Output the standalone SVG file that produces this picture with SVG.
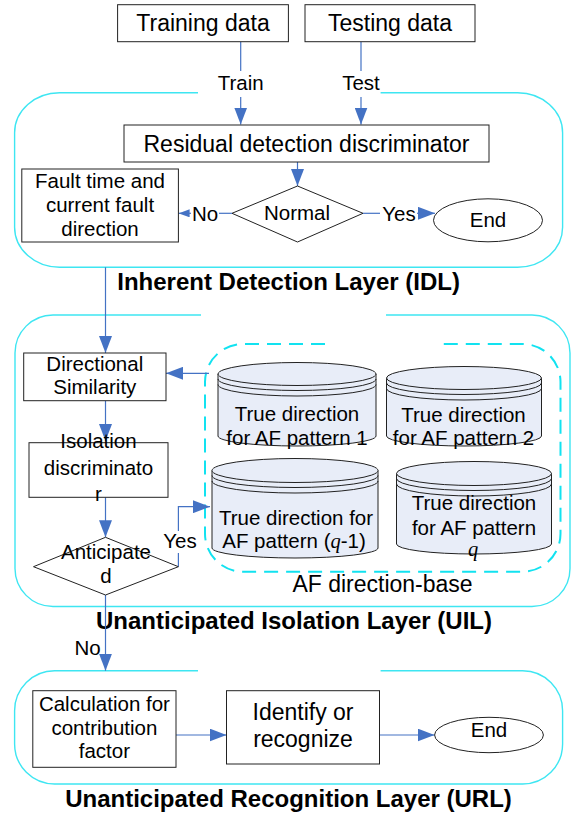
<svg xmlns="http://www.w3.org/2000/svg" width="571" height="814" viewBox="0 0 571 814">
<style>
text{font-family:"Liberation Sans",Arial,sans-serif;fill:#000;text-anchor:middle}
.t23{font-size:23px}
.t20{font-size:20.5px}
.title{font-size:24px;font-weight:bold}
.box{fill:#fff;stroke:#222;stroke-width:1}
.cyl{fill:#e8edf8;stroke:#222;stroke-width:1}
.arc{fill:none;stroke:#222;stroke-width:1}
.frame{fill:none;stroke:#3ee6f2;stroke-width:1.4}
.dash{fill:none;stroke:#12e2f0;stroke-width:2;stroke-dasharray:14 8}
.con{fill:none;stroke:#4472c4;stroke-width:1.2}
.q{font-family:"Liberation Serif","Times New Roman",serif;font-style:italic}
</style>
<defs>
<marker id="arr" markerUnits="userSpaceOnUse" markerWidth="17" markerHeight="13" refX="17" refY="6.5" orient="auto">
<path d="M0,0 L17,6.5 L0,13 z" fill="#4472c4"/>
</marker>
<marker id="arrs" markerUnits="userSpaceOnUse" markerWidth="11" markerHeight="8" refX="11" refY="4" orient="auto">
<path d="M0,0 L11,4 L0,8 z" fill="#4472c4"/>
</marker>
</defs>

<g id="frames">
<path class="frame" d="M198,92.7 H59.6 A45,40 0 0 0 14.6,132.7 V227.3 A45,40 0 0 0 59.6,267.3 H517.6 A45,40 0 0 0 562.6,227.3 V132.7 A45,40 0 0 0 517.6,92.7 H380.6"/>
<path class="frame" d="M201,315 H53 A38,38 0 0 0 15,353 V568.5 A38,38 0 0 0 53,606.5 H532 A38,38 0 0 0 570,568.5 V353 A38,38 0 0 0 532,315 H386"/>
<path class="frame" d="M198,670.7 H54.6 A40,40 0 0 0 14.6,710.7 V744 A40,40 0 0 0 54.6,784 H522.6 A40,40 0 0 0 562.6,744 V710.7 A40,40 0 0 0 522.6,670.7 H380.6"/>
<path class="dash" d="M325,344 H243 A38,38 0 0 0 205,382 V533.7 A38,38 0 0 0 243,571.7 H522.5 A38,38 0 0 0 560.5,533.7 V382 A38,38 0 0 0 522.5,344 H441.7"/>
</g>

<g id="titles">
<text class="title" x="288.6" y="290">Inherent Detection Layer (IDL)</text>
<text class="title" x="294" y="629">Unanticipated Isolation Layer (UIL)</text>
<text class="title" x="288.5" y="806.5">Unanticipated Recognition Layer (URL)</text>
<text class="t23" x="382.5" y="591.5">AF direction-base</text>
</g>

<g id="connectors">
<path class="con" d="M240.7,41.7 V71"/>
<path class="con" d="M240.7,97 V124.5" marker-end="url(#arr)"/>
<text class="t20" x="240.7" y="90">Train</text>
<path class="con" d="M361,41.7 V71"/>
<path class="con" d="M361,97 V124.5" marker-end="url(#arr)"/>
<text class="t20" x="361" y="90">Test</text>
<path class="con" d="M297.5,162 V186" marker-end="url(#arr)"/>
<path class="con" d="M232,213.3 H219"/>
<path class="con" d="M191,213.3 H178.6" marker-end="url(#arrs)"/>
<text class="t20" x="205" y="220.5">No</text>
<path class="con" d="M363,213.3 H380"/>
<path class="con" d="M417,213.3 H435" marker-end="url(#arr)"/>
<text class="t20" x="399" y="220.5">Yes</text>
<path class="con" d="M105.5,267.3 V353" marker-end="url(#arr)"/>
<path class="con" d="M209,373.3 H166" marker-end="url(#arr)"/>
<path class="con" d="M105.5,400.7 V441" marker-end="url(#arr)"/>
<path class="con" d="M105.5,497.3 V537.3" marker-end="url(#arr)"/>
<path class="con" d="M178.4,566.7 V553"/>
<path class="con" d="M178.4,531 V506.7 H210" marker-end="url(#arr)"/>
<text class="t20" x="180" y="548">Yes</text>
<path class="con" d="M105.5,595 V670.7" marker-end="url(#arr)"/>
<text class="t20" x="87.5" y="655">No</text>
<path class="con" d="M176,735 H226.5" marker-end="url(#arr)"/>
<path class="con" d="M379.5,735 H434.5" marker-end="url(#arr)"/>
</g>

<g id="training">
<rect class="box" x="117.6" y="4.7" width="170.8" height="37"/>
<text class="t23" x="203" y="31">Training data</text>
</g>
<g id="testing">
<rect class="box" x="305" y="4.7" width="170" height="37"/>
<text class="t23" x="390" y="31">Testing data</text>
</g>
<g id="residual">
<rect class="box" x="124" y="125" width="365" height="37"/>
<text class="t23" x="306.5" y="151.5">Residual detection discriminator</text>
</g>
<g id="fault">
<rect class="box" x="21.8" y="169" width="156.6" height="73"/>
<text class="t20" x="100" y="188">Fault time and</text>
<text class="t20" x="100" y="212">current fault</text>
<text class="t20" x="100" y="236">direction</text>
</g>
<g id="normal">
<polygon class="box" points="297.5,186 363,213.3 297.5,242 232,213.3"/>
<text class="t20" x="297" y="220">Normal</text>
</g>
<g id="end1">
<ellipse class="box" cx="488" cy="220.3" rx="54.5" ry="21.5"/>
<text class="t20" x="488" y="227">End</text>
</g>
<g id="directional">
<rect class="box" x="23.7" y="353" width="142.3" height="47.7"/>
<text class="t20" x="94.8" y="370.7">Directional</text>
<text class="t20" x="94.8" y="394">Similarity</text>
</g>
<g id="isolation">
<rect class="box" x="29" y="442.7" width="139" height="54.6"/>
<text class="t20" x="98.5" y="448">Isolation</text>
<text class="t20" x="98.5" y="475">discriminato</text>
<text class="t20" x="98.5" y="500.5">r</text>
</g>
<g id="anticipated">
<polygon class="box" points="105.5,537.3 178.4,566.7 105.5,595 33.5,566.7"/>
<text class="t20" x="106" y="559">Anticipate</text>
<text class="t20" x="106" y="583">d</text>
</g>

<g id="cyl1">
<path class="cyl" d="M218,374 V436 A79,10 0 0 0 376,436 V374 z"/>
<ellipse class="cyl" cx="297" cy="374" rx="79" ry="11.5"/>
<path class="arc" d="M218,379 A79,11.5 0 0 0 376,379 M218,384.5 A79,11.5 0 0 0 376,384.5"/>
<text class="t20" x="297" y="421">True direction</text>
<text class="t20" x="297" y="444.5">for AF pattern 1</text>
</g>
<g id="cyl2">
<path class="cyl" d="M386.5,378 V436 A77.5,10 0 0 0 541.5,436 V378 z"/>
<ellipse class="cyl" cx="464" cy="378" rx="77.5" ry="11.5"/>
<path class="arc" d="M386.5,383 A77.5,11.5 0 0 0 541.5,383 M386.5,388.5 A77.5,11.5 0 0 0 541.5,388.5"/>
<text class="t20" x="463.5" y="421.5">True direction</text>
<text class="t20" x="463.5" y="444.5">for AF pattern 2</text>
</g>
<g id="cyl3">
<path class="cyl" d="M212,470.5 V548 A83,10 0 0 0 378,548 V470.5 z"/>
<ellipse class="cyl" cx="295" cy="470.5" rx="83" ry="12"/>
<path class="arc" d="M212,475.5 A83,12 0 0 0 378,475.5 M212,481 A83,12 0 0 0 378,481"/>
<text class="t20" x="296" y="525">True direction for</text>
<text class="t20" x="294" y="548.3">AF pattern (<tspan class="q">q</tspan>-1)</text>
</g>
<g id="cyl4">
<path class="cyl" d="M396.5,473.5 V544 A77.5,10 0 0 0 551.5,544 V473.5 z"/>
<ellipse class="cyl" cx="474" cy="473.5" rx="77.5" ry="12"/>
<path class="arc" d="M396.5,478.5 A77.5,12 0 0 0 551.5,478.5 M396.5,484 A77.5,12 0 0 0 551.5,484"/>
<text class="t20" x="474" y="510">True direction</text>
<text class="t20" x="474" y="535">for AF pattern</text>
<text class="t20 q" x="473" y="556">q</text>
</g>

<g id="calc">
<rect class="box" x="32.8" y="690.7" width="143.2" height="76.6"/>
<text class="t20" x="104.4" y="710.5">Calculation for</text>
<text class="t20" x="104.4" y="735">contribution</text>
<text class="t20" x="104.4" y="758.3">factor</text>
</g>
<g id="identify">
<rect class="box" x="226.5" y="690.7" width="153" height="73.3"/>
<text class="t23" x="303" y="720">Identify or</text>
<text class="t23" x="303" y="746.5">recognize</text>
</g>
<g id="end2">
<ellipse class="box" cx="489" cy="735" rx="54.4" ry="17.7"/>
<text class="t20" x="489" y="737">End</text>
</g>
</svg>
